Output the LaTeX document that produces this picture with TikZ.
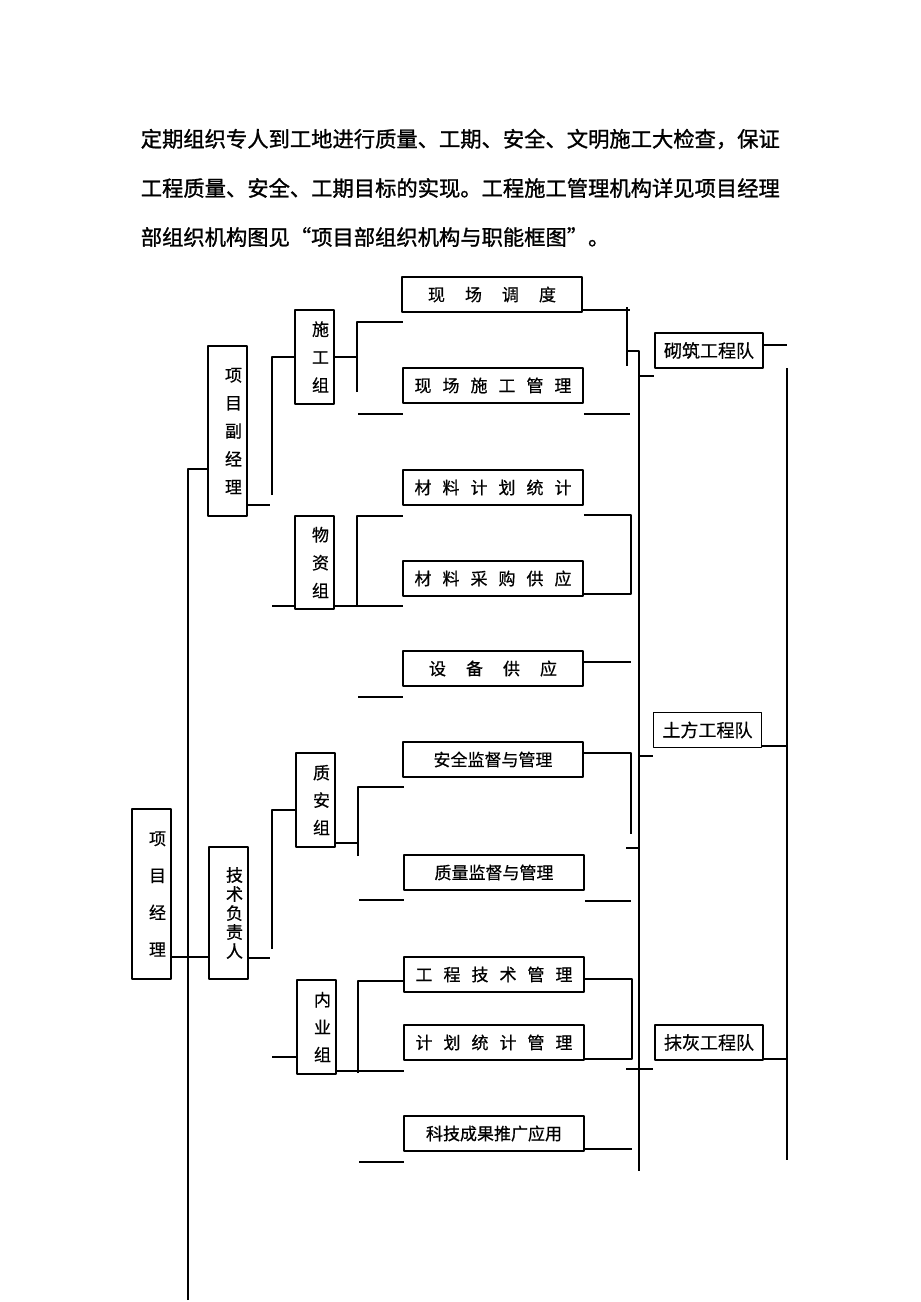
\documentclass[tikz,border=0pt]{standalone}
\usepackage{fontspec}
\setmainfont{Noto Sans CJK SC}[RawFeature={embolden=0.6}]
\newfontfamily\parafont{Noto Sans CJK SC}[RawFeature={embolden=1.2}]
\newcommand{\kg}[1]{\hspace{#1bp}}
\newcommand{\vfont}[1]{\fontsize{17bp}{#1bp}\selectfont}

\begin{document}
\begin{tikzpicture}[x=1bp,y=-1bp,line join=bevel,
  box/.style={draw,rectangle,inner sep=0pt,line width=1.6bp,font=\fontsize{17bp}{20bp}\selectfont},
  vbox/.style={box,minimum width=39bp,text width=29bp,align=right},
  hbox/.style={box,minimum width=180bp,minimum height=35bp},
  team/.style={box,minimum width=108bp,minimum height=35bp,font=\fontsize{18bp}{20bp}\selectfont},
  para/.style={anchor=west,inner sep=0pt,font=\parafont\fontsize{21.3bp}{24bp}\selectfont}]
  \pgfsetlinewidth{1.6bp}
  \useasboundingbox (0,0) rectangle (920,1302);
%%
  % Node: text
  \node[para] (p1) at (140,139) {定期组织专人到工地进行质量、工期、安全、文明施工大检查，保证};
  \node[para] (p2) at (140,188) {工程质量、安全、工期目标的实现。工程施工管理机构详见项目经理};
  \node[para] (p3) at (140,237) {部组织机构图见“项目部组织机构与职能框图”。};
  % Node: left column
  \node[vbox,minimum height=170bp,font=\vfont{37}] (xmjl) at (151.5,894) {项\\目\\经\\理};
  \node[vbox,minimum height=132bp,font=\vfont{19}] (jsfz) at (228.5,913) {技\\术\\负\\责\\人};
  \node[vbox,minimum height=170bp,font=\vfont{28}] (xmfj) at (227.5,431) {项\\目\\副\\经\\理};
  % Node: groups
  \node[vbox,minimum height=94bp,font=\vfont{28}] (sgz) at (314.5,357) {施\\工\\组};
  \node[vbox,minimum height=93bp,font=\vfont{28}] (wzz) at (314.5,562.5) {物\\资\\组};
  \node[vbox,minimum height=94bp,font=\vfont{27.5}] (zaz) at (315.5,800) {质\\安\\组};
  \node[vbox,minimum height=94bp,font=\vfont{27.5}] (nyz) at (316.5,1027) {内\\业\\组};
  % Node: duties
  \node[hbox] (xcdd) at (492,294.5) {现\kg{20}场\kg{20}调\kg{20}度};
  \node[hbox] (xcsg) at (493,385.5) {现\kg{11}场\kg{11}施\kg{11}工\kg{11}管\kg{11}理};
  \node[hbox] (cljh) at (493,487.5) {材\kg{11}料\kg{11}计\kg{11}划\kg{11}统\kg{11}计};
  \node[hbox] (clcg) at (493,578.5) {材\kg{11}料\kg{11}采\kg{11}购\kg{11}供\kg{11}应};
  \node[hbox] (sbgy) at (493,668.5) {设\kg{20}备\kg{20}供\kg{20}应};
  \node[hbox] (aqjd) at (493,759.5) {安全监督与管理};
  \node[hbox] (zljd) at (494,872.5) {质量监督与管理};
  \node[hbox] (gcjs) at (494,974.5) {工\kg{11}程\kg{11}技\kg{11}术\kg{11}管\kg{11}理};
  \node[hbox] (jhtj) at (494,1042.5) {计\kg{11}划\kg{11}统\kg{11}计\kg{11}管\kg{11}理};
  \node[hbox] (kjcg) at (494,1133.5) {科技成果推广应用};
  % Node: teams
  \node[team] (qz) at (709,350.5) {砌筑工程队};
  \node[team] (tf) at (707.5,730) {土方工程队};
  \node[team] (mh) at (709,1042.5) {抹灰工程队};
%%
  % Edge: trunk -> xmfj
  \draw (188,1300) -- (188,469) -- (xmfj.west |- 0,469);
  % Edge: xmjl -> jsfz
  \draw (xmjl.east |- 0,957) -- (jsfz.west |- 0,957);
  % Edge: jsfz -> zaz, nyz
  \draw (jsfz.east |- 0,958) -- (270,958);
  \draw (272,949) -- (272,810) -- (zaz.west |- 0,810);
  \draw (272,1057) -- (nyz.west |- 0,1057);
  % Edge: xmfj -> sgz, wzz
  \draw (xmfj.east |- 0,505) -- (270,505);
  \draw (272,495) -- (272,357) -- (sgz.west);
  \draw (272,606) -- (wzz.west |- 0,606);
  % Edge: sgz -> xcdd, xcsg
  \draw (sgz.east) -- (357,357);
  \draw (357,392) -- (357,322) -- (403,322);
  \draw (358,414) -- (403,414);
  % Edge: wzz -> cljh, clcg, sbgy
  \draw (357,606) -- (357,516) -- (403,516);
  \draw (wzz.east |- 0,606) -- (403,606);
  \draw (358,697) -- (403,697);
  % Edge: zaz -> aqjd, zljd
  \draw (zaz.east |- 0,843) -- (358,843);
  \draw (358,856) -- (358,787) -- (404,787);
  \draw (359,900) -- (404,900);
  % Edge: nyz -> gcjs, jhtj, kjcg
  \draw (358,1073) -- (358,981) -- (gcjs.west |- 0,981);
  \draw (nyz.east |- 0,1071) -- (404,1071);
  \draw (359,1162) -- (404,1162);
  % Edge: duties -> teams
  \draw (xcdd.east |- 0,310) -- (630,310);
  \draw (627,307) -- (627,366);
  \draw (627,351) -- (639,351) -- (639,1171);
  \draw (639,376) -- (qz.west |- 0,376);
  \draw (xcsg.east |- 0,414) -- (630,414);
  \draw (cljh.east |- 0,515) -- (631,515) -- (631,594) -- (clcg.east |- 0,594);
  \draw (sbgy.east |- 0,662) -- (631,662);
  \draw (aqjd.east |- 0,753) -- (631,753) -- (631,834);
  \draw (626,848) -- (639,848);
  \draw (639,756) -- (tf.west |- 0,756);
  \draw (zljd.east |- 0,901) -- (631,901);
  \draw (gcjs.east |- 0,979) -- (632,979) -- (632,1059) -- (jhtj.east |- 0,1059);
  \draw (626,1069) -- (653,1069);
  \draw (kjcg.east |- 0,1149) -- (632,1149);
  % Edge: teams -> right bar
  \draw (qz.east |- 0,345) -- (787,345);
  \draw (787,368) -- (787,1160);
  \draw (tf.east |- 0,746) -- (787,746);
  \draw (mh.east |- 0,1059) -- (787,1059);
%
\end{tikzpicture}
\end{document}
